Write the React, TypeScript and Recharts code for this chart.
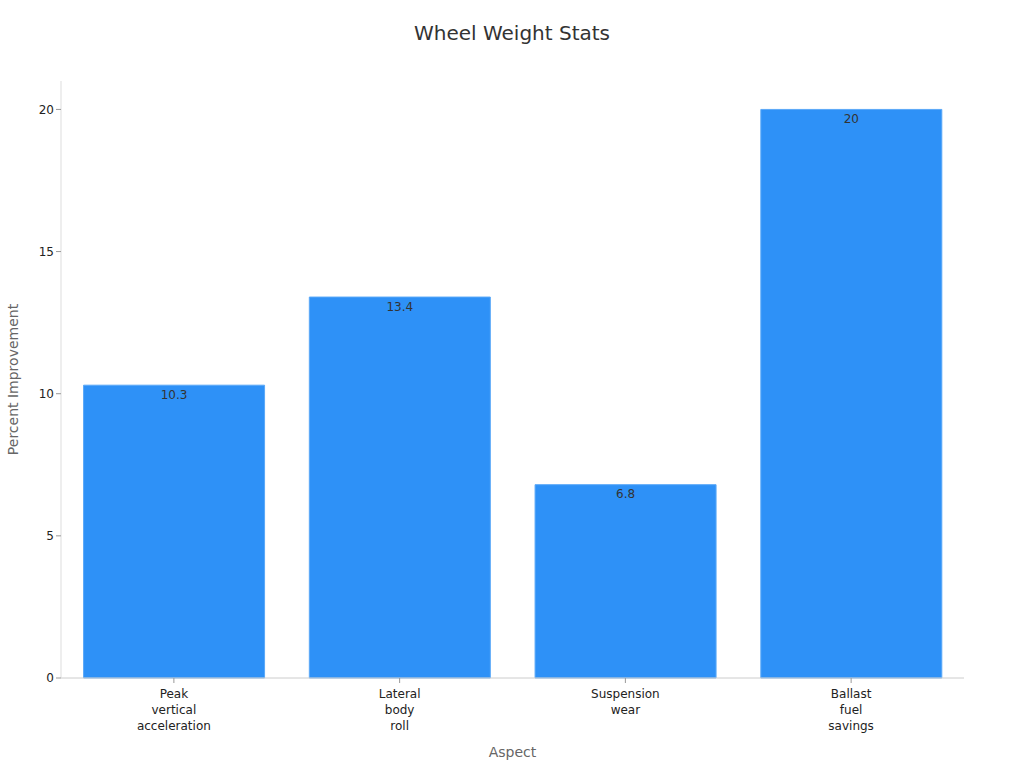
import React from 'react';
import { BarChart, Bar, XAxis, YAxis, LabelList, Label } from 'recharts';

document.body.style.margin = '0';

// chart values
const aspects = ['Peak vertical acceleration', 'Lateral body roll', 'Suspension wear', 'Ballast fuel savings'];
const improvement = [10.3, 13.4, 6.8, 20];
const yTicks = [0, 5, 10, 15, 20];

const data = aspects.map((name, i) => ({ name, value: improvement[i] }));

const FONT = '"DejaVu Sans", sans-serif';

// split each category into one word per line
const WrappedTick = (props: any) => {
  const { x, y, payload } = props;
  const words = String(payload.value).split(' ');
  return (
    <text x={x} y={y + 4} textAnchor="middle" fill="#222" fontSize={12} fontFamily={FONT}>
      {words.map((w, i) => (
        <tspan key={i} x={x} dy={i === 0 ? '0.71em' : 16}>{w}</tspan>
      ))}
    </text>
  );
};

const YTitle = (props: any) => {
  const { viewBox } = props;
  const cx = viewBox.x + 12;
  const cy = viewBox.y + viewBox.height / 2;
  return (
    <text x={cx} y={cy} transform={`rotate(-90, ${cx}, ${cy})`} textAnchor="middle"
      dominantBaseline="central" fill="#666" fontSize={14} fontFamily={FONT}>
      Percent Improvement
    </text>
  );
};

export default function App() {
  return (
    <div style={{ position: 'relative', width: 1024, height: 768, background: '#fff', fontFamily: FONT }}>
      <div style={{ position: 'absolute', top: 21, left: 0, width: 1024, textAlign: 'center', fontSize: 20, color: '#333' }}>
        Wheel Weight Stats
      </div>
      <BarChart width={1024} height={768} data={data} margin={{ top: 81, right: 60, left: 1, bottom: 0 }}
        barCategoryGap="10%">
        <XAxis dataKey="name" height={90} tick={<WrappedTick />} tickLine={{ stroke: '#999' }} tickSize={5}
          axisLine={{ stroke: '#ccc' }} interval={0}>
          <Label value="Aspect" position="insideBottom" offset={11} fill="#666" fontSize={14} fontFamily={FONT} />
        </XAxis>
        <YAxis width={60} domain={[0, 21]} ticks={yTicks} tickSize={5} tickLine={{ stroke: '#999' }}
          axisLine={{ stroke: '#ddd' }} tick={{ fill: '#222', fontSize: 12, fontFamily: FONT }}
          label={<YTitle />} />
        <Bar dataKey="value" fill="#2e91f7" stroke="#5aa8f8" strokeWidth={1} isAnimationActive={false}>
          <LabelList dataKey="value" position="insideTop" offset={5} fill="#333" fontSize={12} fontFamily={FONT} />
        </Bar>
      </BarChart>
    </div>
  );
}
